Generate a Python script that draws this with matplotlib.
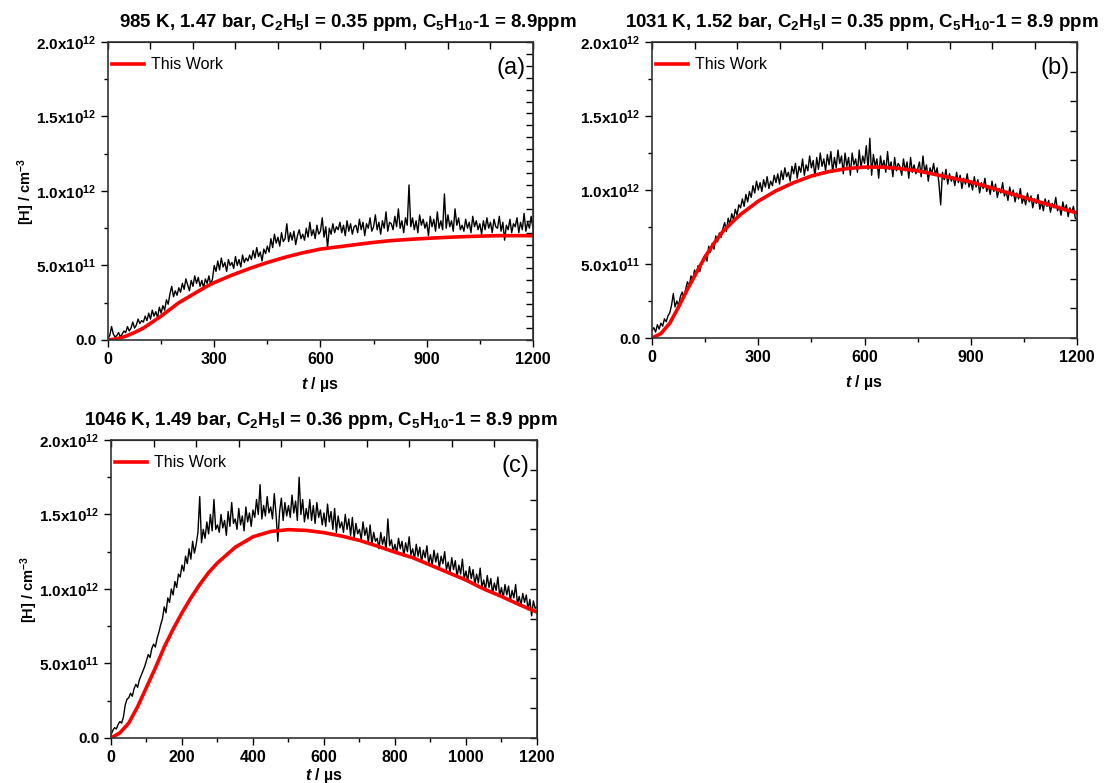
import numpy as np
import matplotlib
matplotlib.use('Agg')
import matplotlib.pyplot as plt
from matplotlib.ticker import MultipleLocator, FuncFormatter, NullLocator

plt.rcParams['font.family'] = ['Liberation Sans', 'DejaVu Sans']
plt.rcParams['mathtext.fontset'] = 'custom'
plt.rcParams['mathtext.rm'] = 'Liberation Sans'
plt.rcParams['mathtext.it'] = 'Liberation Sans:italic'
plt.rcParams['mathtext.bf'] = 'Liberation Sans:bold'
plt.rcParams['mathtext.bfit'] = 'Liberation Sans:italic:bold'
plt.rcParams['mathtext.default'] = 'bf'

# measured H-atom traces, 5 us steps (units of 1e12 cm-3)
t_exp = np.arange(0, 1201, 5)
h_exp_a = [0.01, 0.03, 0.09, 0.04, 0.02, 0.03, 0.05, 0.02, 0.04, 0.06,
           0.05, 0.09, 0.06, 0.08, 0.12, 0.08, 0.10, 0.14, 0.11, 0.13,
           0.12, 0.16, 0.13, 0.18, 0.14, 0.20, 0.16, 0.19, 0.15, 0.22,
           0.18, 0.23, 0.20, 0.27, 0.24, 0.31, 0.36, 0.29, 0.33, 0.30,
           0.35, 0.32, 0.38, 0.34, 0.41, 0.37, 0.33, 0.40, 0.36, 0.43,
           0.38, 0.42, 0.36, 0.40, 0.35, 0.41, 0.38, 0.43, 0.37, 0.41,
           0.50, 0.46, 0.53, 0.47, 0.55, 0.49, 0.52, 0.46, 0.54, 0.50,
           0.52, 0.48, 0.56, 0.50, 0.54, 0.49, 0.57, 0.52, 0.55, 0.53,
           0.57, 0.54, 0.60, 0.55, 0.62, 0.56, 0.59, 0.53, 0.61, 0.58,
           0.63, 0.59, 0.68, 0.62, 0.71, 0.65, 0.69, 0.63, 0.72, 0.66,
           0.68, 0.78, 0.66, 0.72, 0.67, 0.73, 0.64, 0.70, 0.74, 0.68,
           0.71, 0.67, 0.75, 0.69, 0.79, 0.70, 0.74, 0.68, 0.77, 0.71,
           0.73, 0.82, 0.69, 0.76, 0.62, 0.75, 0.71, 0.78, 0.72, 0.76,
           0.74, 0.79, 0.72, 0.77, 0.70, 0.80, 0.73, 0.78, 0.71, 0.76,
           0.77, 0.72, 0.81, 0.74, 0.79, 0.70, 0.78, 0.75, 0.82, 0.73,
           0.76, 0.84, 0.74, 0.79, 0.71, 0.80, 0.75, 0.86, 0.73, 0.79,
           0.78, 0.74, 0.83, 0.76, 0.88, 0.75, 0.80, 0.72, 0.82, 0.77,
           1.04, 0.76, 0.82, 0.74, 0.80, 0.72, 0.84, 0.77, 0.81, 0.75,
           0.79, 0.70, 0.83, 0.76, 0.81, 0.73, 0.86, 0.75, 0.80, 0.74,
           0.98, 0.75, 0.84, 0.76, 0.80, 0.73, 0.88, 0.77, 0.82, 0.74,
           0.77, 0.73, 0.81, 0.75, 0.79, 0.72, 0.83, 0.76, 0.80, 0.74,
           0.78, 0.71, 0.80, 0.74, 0.82, 0.75, 0.79, 0.72, 0.81, 0.76,
           0.75, 0.83, 0.73, 0.79, 0.67, 0.77, 0.74, 0.81, 0.72, 0.78,
           0.76, 0.82, 0.72, 0.79, 0.74, 0.85, 0.73, 0.79, 0.75, 0.83,
           0.75]
h_exp_b = [0.05, 0.07, 0.04, 0.09, 0.06, 0.10, 0.08, 0.13, 0.11, 0.15,
           0.17, 0.22, 0.30, 0.21, 0.25, 0.22, 0.28, 0.31, 0.27, 0.33,
           0.38, 0.35, 0.42, 0.39, 0.46, 0.43, 0.49, 0.45, 0.51, 0.54,
           0.56, 0.52, 0.62, 0.58, 0.64, 0.60, 0.69, 0.65, 0.71, 0.68,
           0.74, 0.78, 0.72, 0.81, 0.77, 0.84, 0.80, 0.87, 0.83, 0.90,
           0.88, 0.94, 0.89, 0.97, 0.92, 0.99, 0.95, 1.03, 0.98, 1.06,
           1.00, 1.05, 0.99, 1.07, 1.02, 1.09, 1.01, 1.06, 1.03, 1.10,
           1.05, 1.11, 1.04, 1.13, 1.07, 1.15, 1.09, 1.12, 1.06, 1.16,
           1.11, 1.18, 1.08, 1.16, 1.12, 1.21, 1.10, 1.17, 1.13, 1.23,
           1.15, 1.20, 1.09, 1.22, 1.14, 1.25, 1.16, 1.21, 1.13, 1.24,
           1.17, 1.26, 1.12, 1.22, 1.15, 1.27, 1.18, 1.23, 1.11, 1.25,
           1.16, 1.22, 1.10, 1.25, 1.17, 1.21, 1.12, 1.27, 1.15, 1.23,
           1.18, 1.30, 1.14, 1.35, 1.10, 1.24, 1.16, 1.21, 1.08, 1.23,
           1.15, 1.20, 1.12, 1.26, 1.14, 1.19, 1.09, 1.22, 1.13, 1.18,
           1.16, 1.10, 1.21, 1.13, 1.19, 1.08, 1.22, 1.12, 1.17, 1.11,
           1.14, 1.19, 1.09, 1.23, 1.12, 1.17, 1.06, 1.15, 1.11, 1.18,
           1.10, 1.15, 1.05, 0.90, 1.12, 1.07, 1.14, 1.04, 1.11, 1.06,
           1.09, 1.03, 1.12, 1.05, 1.10, 1.01, 1.08, 1.04, 1.11, 1.02,
           1.06, 1.00, 1.09, 1.02, 1.07, 0.98, 1.05, 1.01, 1.08, 0.99,
           1.03, 0.97, 1.06, 0.99, 1.04, 0.95, 1.01, 0.98, 1.05, 0.96,
           0.99, 0.93, 1.02, 0.96, 1.00, 0.92, 0.98, 0.94, 1.01, 0.91,
           0.95, 0.90, 0.98, 0.92, 0.96, 0.88, 0.94, 0.91, 0.97, 0.87,
           0.92, 0.86, 0.94, 0.89, 0.93, 0.85, 0.91, 0.88, 0.95, 0.86,
           0.89, 0.83, 0.92, 0.86, 0.90, 0.82, 0.88, 0.85, 0.89, 0.81,
           0.80]
h_exp_c = [0.02, 0.05, 0.07, 0.06, 0.09, 0.11, 0.10, 0.14, 0.22, 0.26,
           0.27, 0.30, 0.28, 0.33, 0.36, 0.34, 0.39, 0.42, 0.45, 0.48,
           0.52, 0.56, 0.54, 0.60, 0.63, 0.61, 0.67, 0.71, 0.76, 0.80,
           0.88, 0.84, 0.94, 0.91, 1.00, 0.96, 1.05, 1.01, 1.10, 1.08,
           1.16, 1.12, 1.22, 1.17, 1.27, 1.20, 1.32, 1.24, 1.30, 1.38,
           1.62, 1.31, 1.40, 1.34, 1.45, 1.37, 1.50, 1.39, 1.60, 1.40,
           1.43, 1.38, 1.50, 1.41, 1.46, 1.36, 1.52, 1.42, 1.58, 1.44,
           1.47, 1.40, 1.54, 1.43, 1.49, 1.39, 1.55, 1.45, 1.51, 1.42,
           1.53, 1.48, 1.60, 1.50, 1.70, 1.47, 1.56, 1.49, 1.62, 1.51,
           1.55, 1.47, 1.64, 1.50, 1.32, 1.52, 1.61, 1.46, 1.58, 1.49,
           1.56, 1.48, 1.63, 1.51, 1.59, 1.46, 1.75, 1.50, 1.60, 1.45,
           1.54, 1.47, 1.60, 1.46, 1.56, 1.44, 1.58, 1.48, 1.53, 1.43,
           1.51, 1.42, 1.57, 1.45, 1.52, 1.40, 1.54, 1.38, 1.49, 1.41,
           1.45, 1.38, 1.50, 1.40, 1.47, 1.36, 1.48, 1.34, 1.44, 1.37,
           1.40, 1.33, 1.45, 1.36, 1.41, 1.31, 1.43, 1.30, 1.38, 1.32,
           1.34, 1.27, 1.38, 1.30, 1.35, 1.26, 1.47, 1.29, 1.33, 1.25,
           1.30, 1.24, 1.34, 1.27, 1.32, 1.22, 1.31, 1.25, 1.35, 1.23,
           1.27, 1.20, 1.30, 1.22, 1.28, 1.18, 1.26, 1.21, 1.29, 1.17,
           1.23, 1.16, 1.26, 1.18, 1.24, 1.14, 1.22, 1.17, 1.25, 1.13,
           1.18, 1.11, 1.21, 1.13, 1.19, 1.08, 1.16, 1.10, 1.20, 1.07,
           1.12, 1.05, 1.15, 1.07, 1.13, 1.03, 1.10, 1.04, 1.14, 1.01,
           1.06, 0.99, 1.09, 1.01, 1.07, 0.97, 1.04, 0.99, 1.08, 0.95,
           1.01, 0.94, 1.03, 0.96, 1.02, 0.92, 0.99, 0.94, 1.03, 0.90,
           0.95, 0.89, 0.97, 0.91, 0.96, 0.86, 0.93, 0.82, 0.92, 0.87,
           0.88]

# model ("This Work")
t_mod = [0, 25, 50, 75, 100, 125, 150, 175, 200, 225, 250, 275, 300,
         350, 400, 450, 500, 550, 600, 650, 700, 750, 800, 850, 900,
         950, 1000, 1050, 1100, 1150, 1200]
h_mod_a = [0.0, 0.008, 0.025, 0.05, 0.08, 0.12, 0.16, 0.205, 0.25, 0.285,
           0.32, 0.355, 0.385, 0.435, 0.48, 0.52, 0.555, 0.585, 0.61, 0.625,
           0.64, 0.655, 0.667, 0.675, 0.682, 0.688, 0.693, 0.697, 0.70, 0.70,
           0.70]
h_mod_b = [0.0, 0.03, 0.10, 0.21, 0.33, 0.44, 0.55, 0.64, 0.72, 0.78,
           0.835, 0.88, 0.925, 0.995, 1.05, 1.095, 1.125, 1.145, 1.155, 1.155,
           1.145, 1.13, 1.105, 1.08, 1.055, 1.02, 0.985, 0.95, 0.915, 0.88,
           0.845]
h_mod_c = [0.0, 0.034, 0.10, 0.21, 0.34, 0.47, 0.61, 0.73, 0.84, 0.94,
           1.03, 1.11, 1.175, 1.28, 1.35, 1.386, 1.398, 1.393, 1.378, 1.355,
           1.326, 1.288, 1.247, 1.21, 1.16, 1.11, 1.06, 1.0, 0.95, 0.895,
           0.845]

titles = [r'985 K, 1.47 bar, C$_2$H$_5$I = 0.35 ppm, C$_5$H$_{10}$-1 = 8.9ppm',
          r'1031 K, 1.52 bar, C$_2$H$_5$I = 0.35 ppm, C$_5$H$_{10}$-1 = 8.9 ppm',
          r'1046 K, 1.49 bar, C$_2$H$_5$I = 0.36 ppm, C$_5$H$_{10}$-1 = 8.9 ppm']
title_x = [0.565, 0.494, 0.493]
panel_tags = ['(a)', '(b)', '(c)']
right_step = [0.08e12, 0.2e12, 0.2e12]


def ylab(v, pos):
    if abs(v) < 1:
        return '0.0'
    if v < 0:
        return ''
    e = int(np.floor(np.log10(v)))
    m = v / 10**e
    return r'%.1fx10$^{%d}$' % (m, e)


fig = plt.figure(figsize=(11.11, 7.83), dpi=100)
rects = [[0.0972, 0.5658, 0.3825, 0.3806],
         [0.5869, 0.5683, 0.3825, 0.3780],
         [0.0999, 0.0575, 0.3834, 0.3806]]
exps = [h_exp_a, h_exp_b, h_exp_c]
mods = [h_mod_a, h_mod_b, h_mod_c]

for i in range(3):
    ax = fig.add_axes(rects[i])
    ax.plot(t_exp, np.array(exps[i]) * 1e12, color='black', lw=1.0)
    ax.plot(t_mod, np.array(mods[i]) * 1e12, color='red', lw=2.6, label='This Work')
    ax.set_xlim(0, 1200)
    ax.set_ylim(0, 2.0e12)
    xmaj = 300 if i < 2 else 200
    ax.xaxis.set_major_locator(MultipleLocator(xmaj))
    ax.xaxis.set_minor_locator(MultipleLocator(xmaj / 2))
    ax.yaxis.set_major_locator(MultipleLocator(0.5e12))
    ax.yaxis.set_minor_locator(MultipleLocator(0.25e12))
    ax.yaxis.set_major_formatter(FuncFormatter(ylab))
    ax.tick_params(which='both', direction='out', width=1.0)
    ax.tick_params(which='major', length=5)
    ax.tick_params(which='minor', length=3)
    ax.tick_params(axis='x', labelsize=11.5)
    ax.tick_params(axis='y', labelsize=11)
    for lb in ax.get_xticklabels() + ax.get_yticklabels():
        lb.set_fontweight('bold')
    for s in ax.spines.values():
        s.set_linewidth(1.2)
        s.set_color('#333333')

    # top / right frame ticks (inward, own spacing)
    top = ax.secondary_xaxis('top')
    top.xaxis.set_major_locator(MultipleLocator(120))
    top.xaxis.set_minor_locator(NullLocator())
    top.tick_params(which='major', direction='in', labeltop=False, width=1.0, length=5)
    right = ax.secondary_yaxis('right')
    right.yaxis.set_major_locator(MultipleLocator(right_step[i]))
    right.yaxis.set_minor_locator(NullLocator())
    right.tick_params(which='major', direction='in', labelright=False, width=1.0, length=5)

    ax.set_xlabel(r'$\mathbfit{t}$ / µs', fontsize=11.5, fontweight='bold',
                  labelpad=6 if i < 2 else 1)
    if i != 1:
        ax.set_ylabel(r'[H] / cm$^{-3}$', fontsize=10.5, fontweight='bold', labelpad=-1)
    ax.set_title(titles[i], fontsize=13.5, fontweight='bold', pad=11, x=title_x[i])
    ax.legend(loc='upper left', bbox_to_anchor=(-0.005, 0.97), frameon=False,
              fontsize=11.5, handlelength=2.0, handletextpad=0.4, borderaxespad=0)
    ax.text(0.983, 0.95, panel_tags[i], transform=ax.transAxes, ha='right', va='top',
            fontsize=17)

fig.savefig('out.png', dpi=100)
